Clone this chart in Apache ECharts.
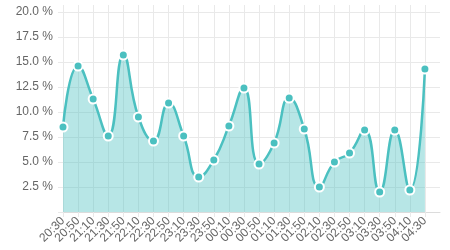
<!DOCTYPE html>
<html>
<head>
<meta charset="utf-8">
<script src="https://cdn.jsdelivr.net/npm/echarts@6/dist/echarts.min.js"></script>
<style>html,body{margin:0;padding:0;background:#fff}#c{width:450px;height:250px}</style>
</head>
<body>
<div id="c"></div>
<script>
var categories = ['20:30','20:50','21:10','21:30','21:50','22:10','22:30','22:50','23:10','23:30','23:50','00:10','00:30','00:50','01:10','01:30','01:50','02:10','02:30','02:50','03:10','03:30','03:50','04:10','04:30',''];
var values = [8.5,14.6,11.3,7.6,15.7,9.5,7.1,10.9,7.6,3.5,5.2,8.6,12.4,4.8,6.9,11.4,8.3,2.5,5.0,5.9,8.2,2.0,8.2,2.2,14.3];
var yTicks = [0,2.5,5,7.5,10,12.5,15,17.5,20];

var gridColor = '#e9e9e9';
var textColor = '#666';
var lastIdx = categories.length - 1;
var chart = echarts.init(document.getElementById('c'), null, {renderer:'canvas'});
chart.setOption({
  animation: false,
  grid: [
    {left: 63, right: 10, top: 12, bottom: 38},
    {left: 63, right: 10, top: 5, bottom: 38}
  ],
  xAxis: [
    {
      gridIndex: 0, type: 'category', data: categories, boundaryGap: false,
      axisLine: {show: true, lineStyle: {color: '#dcdcdc', width: 1}},
      axisTick: {show: false},
      splitLine: {show: false},
      axisLabel: {interval: 0, rotate: 45, color: textColor, fontSize: 12, margin: 7,
        fontFamily: 'Liberation Sans, Arial, sans-serif'}
    },
    {
      gridIndex: 1, type: 'category', data: categories, boundaryGap: false,
      axisLine: {show: false},
      axisLabel: {show: false},
      axisTick: {show: true, length: 5, lineStyle: {color: gridColor},
        interval: function (i) { return i !== lastIdx; }},
      splitLine: {show: true, lineStyle: {color: gridColor, width: 1},
        interval: function (i) { return i !== lastIdx; }}
    }
  ],
  yAxis: [
    {
      gridIndex: 0, type: 'value', min: yTicks[0], max: yTicks[yTicks.length-1], interval: 2.5,
      axisLine: {show: false},
      axisTick: {show: true, length: 5, lineStyle: {color: gridColor}},
      splitLine: {show: true, lineStyle: {color: gridColor, width: 1}},
      axisLabel: {color: textColor, fontSize: 12, margin: 10,
        fontFamily: 'Liberation Sans, Arial, sans-serif',
        formatter: function (v) { return v === 0 ? '' : v.toFixed(1) + ' %'; }}
    },
    {
      gridIndex: 1, type: 'value', min: 0, max: 1, show: false
    }
  ],
  series: [{
    type: 'line', xAxisIndex: 0, yAxisIndex: 0,
    data: values,
    smooth: 0.5,
    symbol: 'circle', symbolSize: 9,
    itemStyle: {color: '#4bc0c0', borderColor: '#fff', borderWidth: 2},
    lineStyle: {color: '#4bc0c0', width: 2.5},
    areaStyle: {color: 'rgba(75,192,192,0.4)', opacity: 1},
    z: 5
  }]
});
</script>
</body>
</html>
